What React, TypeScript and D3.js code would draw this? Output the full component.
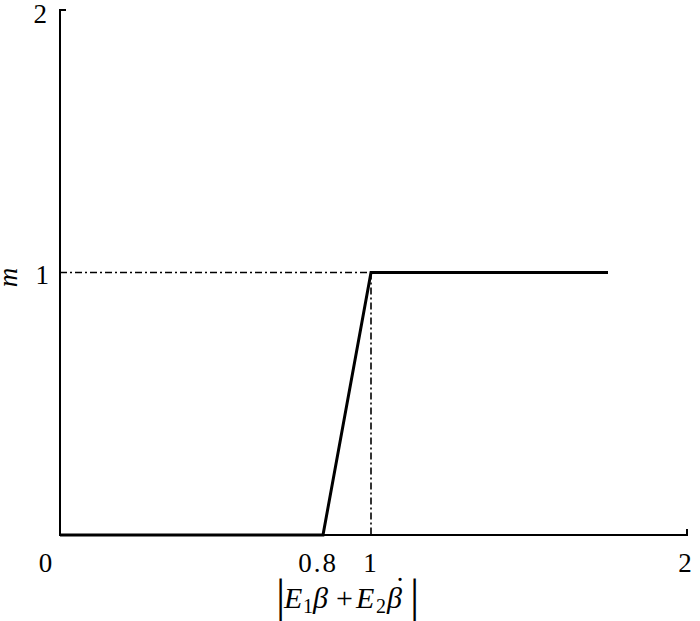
import React from "react";
import * as d3 from "d3";

const xTicks = [0, 0.8, 1, 2];
const xTickLabels = ["0", "0.8", "1", "2"];
const xLabelShift = [-13.5, -5, 0, -1];
const yTicks = [1, 2];
const yTickLabels = ["1", "2"];
const curveX = [0, 0.8, 1, 1.75];
const curveY = [0, 0, 1, 1];
const refX = 1;
const refY = 1;

const W = 700;
const H = 621;

export default function App() {
  const x = d3.scaleLinear().domain([0, 0.8, 1, 2]).range([60, 323, 371, 687]);
  const y = d3.scaleLinear().domain([0, 2]).range([535, 10]);
  const pts: [number, number][] = curveX.map((v, i) => [x(v), y(curveY[i])]);
  const line = d3.line();
  const ff = "Liberation Serif";
  return (
    <svg width={W} height={H} style={{ position: "absolute", left: 0, top: 0, background: "#fff" }}>
      <rect width={W} height={H} fill="#fff" />
      <path
        d={line([[x(0), y(refY)], [x(refX), y(refY)]]) || ""}
        stroke="#000"
        strokeWidth={1.4}
        strokeDasharray="7,3,2,3"
        fill="none"
      />
      <path
        d={line([[x(refX), y(refY)], [x(refX), y(0)]]) || ""}
        stroke="#000"
        strokeWidth={1.6}
        strokeDasharray="7,3,2,3"
        fill="none"
      />
      <path
        d={`M${x(0) + 6},${y(2)}H${x(0)}V${y(0)}H${x(2)}V${y(0) - 6}`}
        stroke="#000"
        strokeWidth={2}
        fill="none"
      />
      <path d={line(pts) || ""} stroke="#000" strokeWidth={3} fill="none" strokeLinejoin="miter" />
      {xTicks.map((t, i) => (
        <text
          key={"xt" + i}
          x={x(t) + xLabelShift[i]}
          y={572}
          fontFamily={ff}
          fontSize={27}
          letterSpacing={2}
          textAnchor="middle"
        >
          {xTickLabels[i]}
        </text>
      ))}
      {yTicks.map((t, i) => (
        <text
          key={"yt" + i}
          x={t === 2 ? 47 : 49}
          y={t === 2 ? 23 : y(t) + 11}
          fontFamily={ff}
          fontSize={27}
          textAnchor="end"
        >
          {yTickLabels[i]}
        </text>
      ))}
      <text
        transform={`translate(17,${y(1) + 5}) rotate(-90)`}
        fontFamily={ff}
        fontSize={27}
        fontStyle="italic"
        textAnchor="middle"
      >
        m
      </text>
      <g fontFamily={ff}>
        <text x={276} y={611} fontSize={46}>|</text>
        <text y={608} fontSize={30}>
          <tspan x={284} fontStyle="italic">E</tspan>
          <tspan x={303} fontSize={20} dy={5}>1</tspan>
          <tspan x={313} fontStyle="italic" dy={-5}>β</tspan>
          <tspan x={336}>+</tspan>
          <tspan x={356} fontStyle="italic">E</tspan>
          <tspan x={376} fontSize={20} dy={5}>2</tspan>
          <tspan x={387} fontStyle="italic" dy={-5}>β</tspan>
        </text>
        <text x={395} y={598} fontSize={30}>˙</text>
        <text x={410} y={611} fontSize={46}>|</text>
      </g>
    </svg>
  );
}
